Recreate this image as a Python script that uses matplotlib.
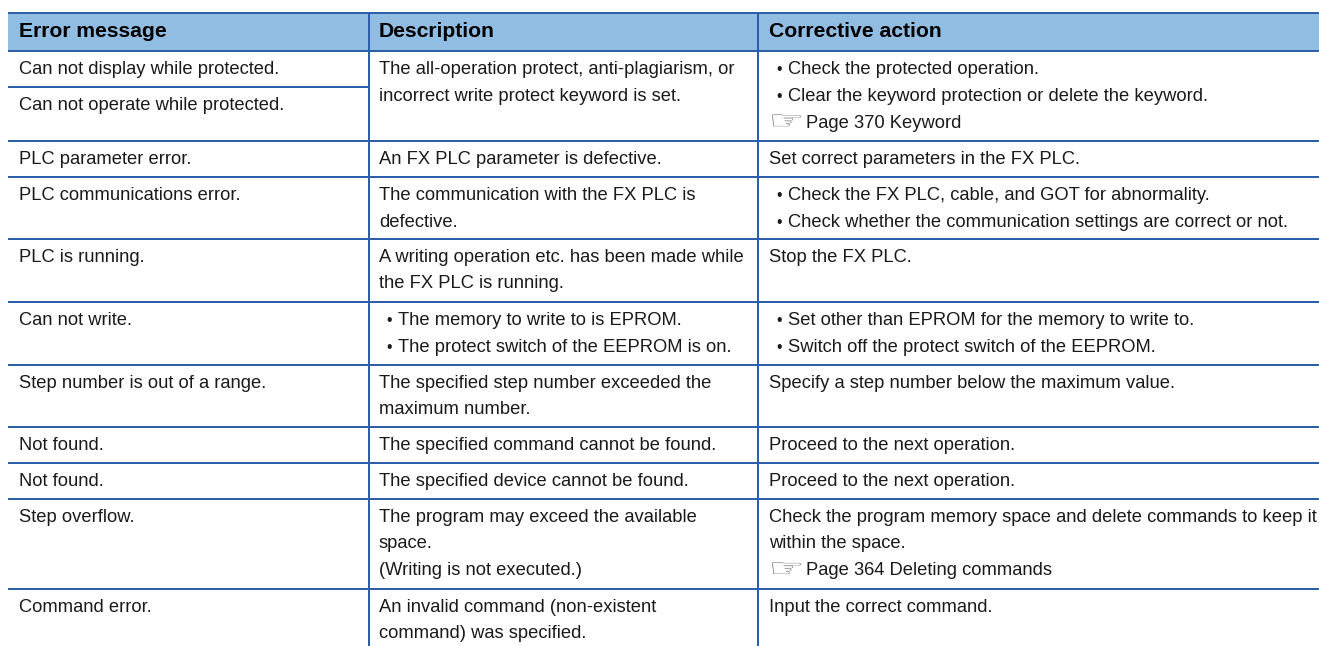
# -*- coding: utf-8 -*-
import matplotlib
matplotlib.use("Agg")
import matplotlib.pyplot as plt
from matplotlib.font_manager import FontProperties
from matplotlib.patches import PathPatch
from matplotlib.textpath import TextPath
from matplotlib.transforms import Affine2D

headers = ["Error message", "Description", "Corrective action"]

col1 = [
    ["Can not display while protected."],
    ["PLC parameter error."],
    ["PLC communications error."],
    ["PLC is running."],
    ["Can not write."],
    ["Step number is out of a range."],
    ["Not found."],
    ["Not found."],
    ["Step overflow."],
    ["Command error."],
]
col2 = [
    ["The all-operation protect, anti-plagiarism, or", "incorrect write protect keyword is set."],
    ["An FX PLC parameter is defective."],
    ["The communication with the FX PLC is", "defective."],
    ["A writing operation etc. has been made while", "the FX PLC is running."],
    ["• The memory to write to is EPROM.", "• The protect switch of the EEPROM is on."],
    ["The specified step number exceeded the", "maximum number."],
    ["The specified command cannot be found."],
    ["The specified device cannot be found."],
    ["The program may exceed the available", "space.", "(Writing is not executed.)"],
    ["An invalid command (non-existent", "command) was specified."],
]
col3 = [
    ["• Check the protected operation.", "• Clear the keyword protection or delete the keyword.", "☞ Page 370 Keyword"],
    ["Set correct parameters in the FX PLC."],
    ["• Check the FX PLC, cable, and GOT for abnormality.", "• Check whether the communication settings are correct or not."],
    ["Stop the FX PLC."],
    ["• Set other than EPROM for the memory to write to.", "• Switch off the protect switch of the EEPROM."],
    ["Specify a step number below the maximum value."],
    ["Proceed to the next operation."],
    ["Proceed to the next operation."],
    ["Check the program memory space and delete commands to keep it", "within the space.", "☞ Page 364 Deleting commands"],
    ["Input the correct command."],
]

# pixel layout of the page
row_tops = [51, 141, 177, 238.7, 302, 364.7, 427, 462.7, 498.7, 588.7]
top = 13
left = 8
right = 1319
bottom = 646
col_lines = [369, 758]
col_x = [18.7, 379, 769]
split_y = 87
second_msg = "Can not operate while protected."

line_col = "#2E5EAA"
head_col = "#92BDE3"
text_col = "#1A1A1A"
fs = 13.25
fs_head = 15.2
pitch = 26.9

plt.rcParams["font.family"] = ["Liberation Sans", "DejaVu Sans"]
fig = plt.figure(figsize=(13.19, 6.46), dpi=100)
ax = fig.add_axes([0, 0, 1, 1])
ax.set_xlim(0, 1319)
ax.set_ylim(646, 0)
ax.axis("off")

ax.fill_between([left, right], top, row_tops[0], color=head_col, lw=0)

for x, h in zip(col_x, headers):
    ax.text(x, 36.7, h, fontsize=fs_head, fontweight="bold", color="#000000", va="baseline")


def draw_hand(x, y):
    # pointing hand icon, squashed to the wide shape it has on the page
    tp = TextPath((0, 0), "☞", size=20, prop=FontProperties(family="DejaVu Sans"))
    bb = tp.get_extents()
    tr = (Affine2D().translate(-bb.x0, -bb.y0).scale(29 / bb.width, -12 / bb.height)
          .translate(x, y))
    ax.add_patch(PathPatch(tp, transform=tr + ax.transData, fc="#808080", ec="none"))


def put_line(x, y, s):
    if s.startswith("• "):
        ax.text(x + 7, y, "•", fontsize=fs * 0.85, color=text_col, va="baseline")
        ax.text(x + 19.5, y, s[2:], fontsize=fs, color=text_col, va="baseline")
    elif s.startswith("☞ "):
        draw_hand(x + 3, y - 1.3)
        ax.text(x + 36.8, y, s[2:], fontsize=fs, color=text_col, va="baseline")
    else:
        ax.text(x, y, s, fontsize=fs, color=text_col, va="baseline")


for i, y0 in enumerate(row_tops):
    for x, col in zip(col_x, (col1, col2, col3)):
        for j, s in enumerate(col[i]):
            put_line(x, y0 + 22.8 + j * pitch, s)

put_line(col_x[0], split_y + 22.8, second_msg)

lw = 2 * 72 / 100
for y in [top] + row_tops:
    ax.plot([left, right], [y, y], color=line_col, lw=lw, solid_capstyle="butt")
ax.plot([left, col_lines[0]], [split_y, split_y], color=line_col, lw=lw, solid_capstyle="butt")
for x in col_lines:
    ax.plot([x, x], [top, bottom], color=line_col, lw=lw, solid_capstyle="butt")

fig.savefig("out.png", dpi=100)
